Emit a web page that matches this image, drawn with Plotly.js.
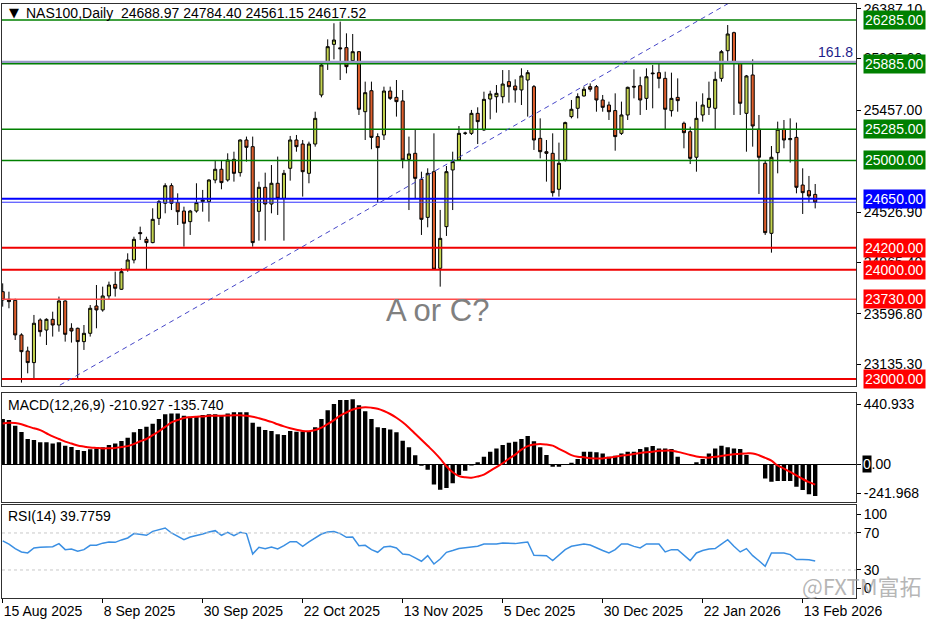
<!DOCTYPE html>
<html><head><meta charset="utf-8">
<script src="https://cdn.plot.ly/plotly-3.0.1.min.js"></script>
<style>html,body{margin:0;padding:0;background:#fff;}#chart{width:936px;height:624px;}</style>
</head><body><div id="chart"></div>
<script>
const dates = [
'2025-08-15','2025-08-18','2025-08-19','2025-08-20','2025-08-21','2025-08-22',
'2025-08-25','2025-08-26','2025-08-27','2025-08-28','2025-08-29',
'2025-09-01','2025-09-02','2025-09-03','2025-09-04','2025-09-05',
'2025-09-08','2025-09-09','2025-09-10','2025-09-11','2025-09-12',
'2025-09-15','2025-09-16','2025-09-17','2025-09-18','2025-09-19',
'2025-09-22','2025-09-23','2025-09-24','2025-09-25','2025-09-26',
'2025-09-29','2025-09-30','2025-10-01','2025-10-02','2025-10-03',
'2025-10-06','2025-10-07','2025-10-08','2025-10-09','2025-10-10',
'2025-10-13','2025-10-14','2025-10-15','2025-10-16','2025-10-17',
'2025-10-20','2025-10-21','2025-10-22','2025-10-23','2025-10-24',
'2025-10-27','2025-10-28','2025-10-29','2025-10-30','2025-10-31',
'2025-11-03','2025-11-04','2025-11-05','2025-11-06','2025-11-07',
'2025-11-10','2025-11-11','2025-11-12','2025-11-13','2025-11-14',
'2025-11-17','2025-11-18','2025-11-19','2025-11-20','2025-11-21',
'2025-11-24','2025-11-25','2025-11-26','2025-11-27','2025-11-28',
'2025-12-01','2025-12-02','2025-12-03','2025-12-04','2025-12-05',
'2025-12-08','2025-12-09','2025-12-10','2025-12-11','2025-12-12',
'2025-12-15','2025-12-16','2025-12-17','2025-12-18','2025-12-19',
'2025-12-22','2025-12-23','2025-12-24','2025-12-26',
'2025-12-29','2025-12-30','2025-12-31','2026-01-02',
'2026-01-05','2026-01-06','2026-01-07','2026-01-08','2026-01-09',
'2026-01-12','2026-01-13','2026-01-14','2026-01-15','2026-01-16',
'2026-01-19','2026-01-20','2026-01-21','2026-01-22','2026-01-23',
'2026-01-26','2026-01-27','2026-01-28','2026-01-29','2026-01-30',
'2026-02-02','2026-02-03','2026-02-04','2026-02-05','2026-02-06',
'2026-02-09','2026-02-10','2026-02-11','2026-02-12','2026-02-13',
'2026-02-16','2026-02-17'];

const open = [23799,23729,23720,23403,23256,23150,23540,23448,23546,23494,
23714,23464,23464,23342,23418,23668,23632,23760,23866,23821,
24004,24089,24340,24278,24248,24470,24608,24769,24614,24537,
24440,24537,24623,24623,24821,24919,24821,25010,24888,25187,
25126,24534,24754,24601,24791,24653,24928,25187,25150,24882,
25150,25599,25888,26062,26030,26032,25913,25995,25446,25638,
25218,25233,25635,25577,25544,25010,25065,24827,24479,24897,
24013,24394,24913,25004,25248,25248,25431,25279,25562,25583,
25583,25721,25681,25645,25736,25675,25202,25080,25065,24736,
25004,25401,25477,25590,25675,25675,25553,25507,25456,25248,
25416,25678,25684,25568,25800,25803,25751,25455,25577,25340,
25263,25029,25416,25486,25477,25751,26004,26169,25888,25431,
25782,25285,24974,24333,25071,25285,25190,25211,24775,24723,
24688.97];
const high = [23875,23799,23735,23418,23296,23586,23555,23555,23616,23754,
23720,23510,23470,23494,23677,23860,23845,23891,23982,24013,
24150,24302,24394,24302,24562,24638,24791,24791,24699,24577,
24547,24791,24730,24827,25004,25004,25065,25080,25193,25218,
25218,24806,24888,24958,25035,24913,25224,25233,25187,25172,
25446,25888,26108,26255,26270,26163,26157,26000,25721,25721,
25248,25675,25675,25736,25644,25218,25285,24897,24928,25248,
24547,24949,25080,25315,25263,25462,25486,25629,25638,25690,
25827,25827,25742,25843,25827,25690,25385,25187,25248,25163,
25355,25553,25614,25675,25705,25690,25599,25538,25614,25538,
25675,25834,25766,25843,25873,25888,25812,25803,25751,25355,
25309,25538,25614,25721,25812,26010,26239,26178,25895,25782,
25925,25416,25004,25132,25355,25370,25385,25346,24928,24858,
24784.40];
const low = [23662,23647,23357,22967,23052,22997,23388,23311,23388,23433,
23342,23333,22991,23266,23388,23464,23616,23723,23754,23815,
23982,24058,24272,24004,24242,24409,24516,24546,24409,24211,
24318,24522,24531,24440,24791,24736,24806,24806,24852,24989,
24211,24266,24266,24516,24501,24266,24815,25080,24669,24791,
25126,25577,25828,25925,25736,25797,25904,25416,25187,25102,
24614,25187,25553,25401,24928,24546,24653,24318,24388,23998,
23845,24309,24546,24995,25233,25233,25150,25270,25376,25437,
25523,25529,25529,25507,25401,25096,25019,24806,24669,24669,
24990,25385,25385,25584,25629,25446,25446,25370,25089,25233,
25370,25568,25416,25462,25477,25660,25279,25401,25446,25111,
24967,24897,25355,25416,25279,25721,25888,25416,25416,25080,
25126,24693,24318,24156,24882,25111,24980,24699,24510,24614,
24561.15];
const close = [23723,23708,23403,23250,23150,23510,23433,23546,23494,23714,
23409,23439,23342,23418,23647,23632,23760,23860,23830,23982,
24089,24278,24330,24248,24461,24623,24769,24608,24531,24425,
24537,24614,24638,24821,24919,24797,25004,24882,25187,25120,
24248,24754,24601,24791,24653,24882,25187,25126,24897,25150,
25385,25873,26041,26102,26022,25858,25995,25468,25620,25211,
25117,25635,25568,25538,25004,25059,24836,24461,24882,24004,
24287,24897,24989,25248,25250,25431,25355,25559,25608,25614,
25699,25675,25645,25773,25803,25187,25080,25065,24705,24974,
25346,25468,25584,25651,25651,25553,25486,25446,25218,25416,
25669,25672,25553,25766,25794,25751,25468,25568,25547,25254,
25019,25385,25507,25568,25742,25995,26157,25888,25523,25773,
25315,25029,24339,25029,25285,25187,25200,24754,24705,24675,
24617.52];

const macd = [297,290,253,211,165,158,143,143,136,143,
121,112,92,86,97,103,110,125,136,152,
174,209,231,246,266,297,328,334,334,319,
312,312,323,328,328,323,334,341,341,341,
273,246,224,218,196,191,218,213,215,215,
242,297,354,396,422,422,427,387,348,297,
242,238,227,209,154,110,57,-12,-38,-135,
-170,-158,-127,-72,-45,-10,11,48,81,103,
125,140,147,165,185,150,110,60,-18,-18,
-7,9,33,81,81,77,70,48,55,70,
81,81,99,110,119,103,103,99,48,0,
-7,11,33,70,103,121,110,103,99,60,
0,-7,-95,-117,-112,-112,-112,-150,-172,-200,
-210.927];
const signal = [268,272,270,262,248,236,224,203,182,165,
148,135,122,115,109,106,103,104,106,112,
118,132,150,165,190,216,245,275,290,304,
309,312,314,318,319,319,320,322,322,318,
312,302,290,278,262,248,236,226,218,216,
224,240,264,290,320,340,360,370,375,372,
365,350,330,305,275,240,200,160,120,80,
35,-15,-55,-80,-88,-90,-82,-70,-45,-20,
5,35,62,95,118,128,132,128,121,100,
80,59,48,44,38,37,37,42,48,55,
60,66,73,78,81,87,88,88,80,70,
59,50,44,42,48,53,60,64,68,70,
70,58,40,22,-10,-30,-52,-75,-99,-120,
-135.740];
const rsi = [61.5,58,53,49.5,48.4,53.8,54.5,54.5,55.2,58.5,
52,52.7,50.2,52,56.7,56.7,59,60.3,59.9,62.5,
64.6,69.3,68.5,67.5,71.8,73.5,75.4,70,66,62.8,
65.7,67,68.9,71,72.5,67.5,70.7,67.1,70.7,69.3,
47.3,54.5,53.1,54.9,52.7,56.3,60.6,60.6,55.6,60.3,
64.5,68.9,71.1,71.5,69.3,65.3,65.7,56.3,56.7,52,
49.1,54.9,55.6,53.8,47.3,46.6,43,39.4,45.5,36.5,
41.9,49.1,51,53.1,54,54.5,55.6,58.1,58.1,58.1,
59.2,59,58.5,59.5,60.3,45.9,45.7,45.5,40.1,46,
52,55.6,56.8,58.1,57,53.8,51,48.4,52,58.1,
58.1,55.5,53.8,58.1,58.1,58.1,49.5,52,52,46,
40.1,48.4,51,52.7,53.1,58,62.8,55.6,49.5,53.1,
45.5,40,34,48.4,48.4,48.4,46.6,41.2,41.2,41,
39.7759];

const xTickDates = ['2025-08-15','2025-09-08','2025-09-30','2025-10-22','2025-11-13','2025-12-05','2025-12-30','2026-01-22','2026-02-13'];
const xTickLabels = ['15 Aug 2025','8 Sep 2025','30 Sep 2025','22 Oct 2025','13 Nov 2025','5 Dec 2025','30 Dec 2025','22 Jan 2026','13 Feb 2026'];
const priceTicks = [26387.10,25935.60,25457.00,24526.90,24065.40,23596.80,23135.30];
const macdTickVals = [396,0,-191.4];
const macdTickText = ['440.933','0.00','-241.968'];
const rsiTickVals = [90,70,30,10];
const rsiTickText = ['100','70','30','0'];

const greenLevels = [26285,25885,25285,25000];
const blueLevels = [24650];
const redLevels = [24200,24000,23730,23000];
const fibLevel = 25901;
const fibLabel = '161.8';
const trendIdx = [7.9,130];
const trendPrice = [22902.8,26890];

const F = 'Liberation Sans, Arial, sans-serif';
const shapes = [];
const annotations = [];
function hline(y, color, width, yref, dash){
  shapes.push({type:'line',xref:'paper',x0:0,x1:1,yref:yref||'y',y0:y,y1:y,line:{color:color,width:width,dash:dash||'solid'},layer:'above'});
}
function levelBox(y, bg){
  annotations.push({xref:'paper',x:1,xshift:7,xanchor:'left',yref:'y',y:y,yanchor:'middle',
    text:y.toFixed(2),showarrow:false,bgcolor:bg,borderpad:1,font:{family:F,size:14,color:'#ffffff'}});
}
hline(fibLevel,'#9a9ac6',2.5);
greenLevels.forEach(v=>{hline(v,'#008000',1.5);levelBox(v,'#008000');});
hline(close[close.length-1],'#3030ff',1);
blueLevels.forEach(v=>{hline(v,'#0000ff',2);levelBox(v,'#0000ff');});
redLevels.forEach((v,k)=>{hline(v, k===2?'#ff4a4a':'#f00000', k===2?1.5:2);levelBox(v,'#ff0000');});
hline(70,'#c8c8c8',1,'y3','dot');
hline(30,'#c8c8c8',1,'y3','dot');
shapes.push({type:'line',xref:'x',yref:'y',x0:trendIdx[0],x1:trendIdx[1],y0:trendPrice[0],y1:trendPrice[1],
  line:{color:'#4646c8',width:1,dash:'5px,4px'},layer:'above'});

const n = close.length-1;
annotations.push({xref:'paper',yref:'paper',x:0,xshift:5,xanchor:'left',y:(598-12)/594,yanchor:'middle',showarrow:false,
  text:'▼',font:{family:'DejaVu Sans, sans-serif',size:13,color:'#000'}});
annotations.push({xref:'paper',yref:'paper',x:0,xshift:22,xanchor:'left',y:(598-13)/594,yanchor:'middle',showarrow:false,
  text:'NAS100,Daily  '+open[n].toFixed(2)+' '+high[n].toFixed(2)+' '+low[n].toFixed(2)+' '+close[n].toFixed(2),
  font:{family:F,size:14,color:'#000'}});
annotations.push({xref:'paper',yref:'y',x:1,xshift:-1,xanchor:'right',y:fibLevel,yshift:10,yanchor:'middle',showarrow:false,
  text:fibLabel,font:{family:F,size:14,color:'#1c1c8a'}});
annotations.push({xref:'paper',yref:'paper',x:(437-2)/854,y:(598-310)/594,xanchor:'center',yanchor:'middle',showarrow:false,
  text:'A or C?',font:{family:F,size:31,color:'#808080'}});
annotations.push({xref:'paper',yref:'paper',x:0,xshift:4,xanchor:'left',y:(598-405)/594,yanchor:'middle',showarrow:false,
  text:'MACD(12,26,9) '+macd[n].toFixed(3)+' '+signal[n].toFixed(3),font:{family:F,size:14,color:'#000'}});
annotations.push({xref:'paper',yref:'paper',x:0,xshift:4,xanchor:'left',y:(598-516)/594,yanchor:'middle',showarrow:false,
  text:'RSI(14) '+rsi[n].toFixed(4),font:{family:F,size:14,color:'#000'}});
annotations.push({xref:'paper',yref:'y2',x:1,xshift:6,xanchor:'left',y:0,yanchor:'middle',showarrow:false,
  text:'0',bgcolor:'#000000',borderpad:0,font:{family:F,size:14,color:'#ffffff'}});
annotations.push({xref:'paper',yref:'paper',x:(862-2)/854,y:(598-585)/594,xanchor:'center',yanchor:'middle',showarrow:false,
  text:'@FXTM富拓',font:{family:'Noto Sans CJK SC, sans-serif',size:22,color:'rgba(150,150,150,0.7)'}});

const traces = [
  {type:'candlestick',x:dates,open:open,high:high,low:low,close:close,xaxis:'x',yaxis:'y',
   increasing:{line:{color:'#000000',width:1},fillcolor:'#c3d34f'},
   decreasing:{line:{color:'#000000',width:1},fillcolor:'#de5f2c'},
   whiskerwidth:0,hoverinfo:'skip',showlegend:false},
  {type:'bar',x:dates,y:macd,xaxis:'x2',yaxis:'y2',marker:{color:'#000000',line:{width:0}},showlegend:false,hoverinfo:'skip'},
  {type:'scatter',mode:'lines',x:dates,y:signal,xaxis:'x2',yaxis:'y2',line:{color:'#ff0000',width:2,shape:'spline'},showlegend:false,hoverinfo:'skip'},
  {type:'scatter',mode:'lines',x:dates,y:rsi,xaxis:'x3',yaxis:'y3',line:{color:'#3a8fe3',width:1.5},showlegend:false,hoverinfo:'skip'}
];

const xr = [-0.112,136.53];
const ax = {type:'category',range:xr,showgrid:false,zeroline:false,showline:true,mirror:true,linecolor:'#303030',linewidth:1,showticklabels:false,ticks:''};
const yBase = {side:'right',showgrid:false,zeroline:false,showline:true,mirror:true,linecolor:'#303030',linewidth:1,
  ticks:'outside',ticklen:4,tickcolor:'#000',tickfont:{family:F,size:14,color:'#000'},fixedrange:true};

const layout = {
  width:936,height:624,margin:{l:2,r:80,t:4,b:26},paper_bgcolor:'#ffffff',plot_bgcolor:'#ffffff',
  showlegend:false,bargap:0.3,
  xaxis:Object.assign({},ax,{anchor:'y',rangeslider:{visible:false}}),
  xaxis2:Object.assign({},ax,{anchor:'y2',matches:'x'}),
  xaxis3:Object.assign({},ax,{anchor:'y3',matches:'x',showticklabels:true,tickvals:xTickDates,ticktext:xTickLabels,
    ticks:'outside',ticklen:4,tickcolor:'#000',ticklabelposition:'outside right',tickfont:{family:F,size:14,color:'#000'}}),
  yaxis:Object.assign({},yBase,{anchor:'x',domain:[(598-386)/594,1],range:[22935.9,26431.4],
    tickvals:priceTicks,ticktext:priceTicks.map(v=>v.toFixed(2))}),
  yaxis2:Object.assign({},yBase,{anchor:'x2',domain:[(598-501.5)/594,(598-393)/594],range:[-247.5,468.6],
    tickvals:macdTickVals,ticktext:macdTickText,zeroline:true,zerolinecolor:'#000',zerolinewidth:1}),
  yaxis3:Object.assign({},yBase,{anchor:'x3',domain:[0,(598-504.5)/594],range:[-0.3,100.8],
    tickvals:rsiTickVals,ticktext:rsiTickText}),
  shapes:shapes,annotations:annotations
};
Plotly.newPlot('chart',traces,layout,{staticPlot:true,displayModeBar:false});
</script></body></html>
